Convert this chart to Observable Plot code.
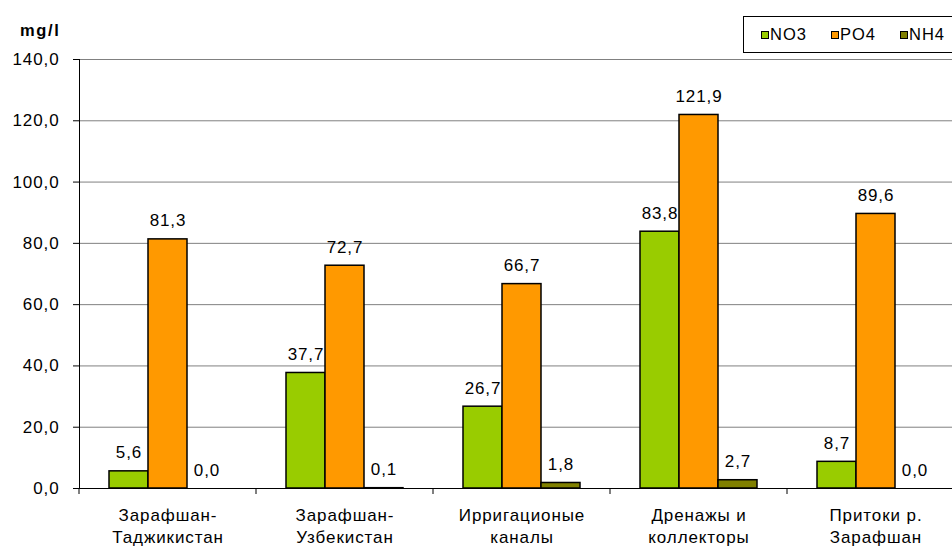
<!DOCTYPE html>
<html>
<head>
<meta charset="utf-8">
<script src="https://cdn.jsdelivr.net/npm/d3@7"></script>
<script src="https://cdn.jsdelivr.net/npm/@observablehq/plot@0.6"></script>
<style>
  html, body { margin: 0; padding: 0; background: #fff; overflow: hidden; }
  #chart { position: relative; width: 952px; height: 546px; overflow: hidden;
           font-family: "Liberation Sans", Arial, sans-serif; color: #000; }
  #chart svg text { letter-spacing: 0.9px; }
  .unit { position: absolute; left: 20px; top: 20px; font-weight: bold; font-size: 16.5px;
          letter-spacing: 1.6px; line-height: 20px; }
  .legend { position: absolute; left: 743px; top: 16px; width: 240px; height: 37px;
            border: 1px solid #000; box-sizing: border-box; display: flex; align-items: center;
            padding-left: 17px; gap: 24px; font-size: 16.5px; letter-spacing: 1px; }
  .legend .item { display: flex; align-items: center; }
  .legend .sw { display: inline-block; width: 6px; height: 6px; border: 1px solid #000; margin-right: 1px; }
</style>
</head>
<body>
<div id="chart">
  <div class="unit">mg/l</div>
  <div class="legend" id="legend"></div>
</div>
<script>
// Sampling sites (two-line labels)
const categories = [
  "Зарафшан-\nТаджикистан",
  "Зарафшан-\nУзбекистан",
  "Ирригационые\nканалы",
  "Дренажы и\nколлекторы",
  "Притоки р.\nЗарафшан"
];
const series = ["NO3", "PO4", "NH4"];
const colors = ["#99CC00", "#FF9900", "#808000"];

// Concentrations, mg/l
const no3 = [5.6, 37.7, 26.7, 83.8, 8.7];
const po4 = [81.3, 72.7, 66.7, 121.9, 89.6];
const nh4 = [0.0, 0.1, 1.8, 2.7, 0.0];

const yTicks = [0, 20, 40, 60, 80, 100, 120, 140];

const valuesBySeries = {NO3: no3, PO4: po4, NH4: nh4};
const rows = categories.flatMap((category, i) =>
  series.map(s => ({category, series: s, value: valuesBySeries[s][i]}))
);

const fmt = v => v.toFixed(1).replace(".", ",");

// small downward tick at the left edge of every category group
function groupTick(index, scales, values, dims) {
  const y0 = dims.height - dims.marginBottom;
  const line = document.createElementNS("http://www.w3.org/2000/svg", "line");
  line.setAttribute("x1", dims.marginLeft);
  line.setAttribute("x2", dims.marginLeft);
  line.setAttribute("y1", y0);
  line.setAttribute("y2", y0 + 6);
  line.setAttribute("stroke", "#000");
  return line;
}

const plot = Plot.plot({
  width: 952,
  height: 546,
  marginTop: 59,
  marginBottom: 58,
  marginLeft: 78,
  marginRight: -12,
  style: {fontFamily: "'Liberation Sans', Arial, sans-serif", fontSize: "17px", color: "#000", background: "transparent"},
  fx: {domain: categories, padding: 0, label: null},
  x: {domain: series, paddingInner: 0, paddingOuter: 0.74, axis: null},
  y: {domain: [0, 140]},
  color: {domain: series, range: colors},
  marks: [
    Plot.gridY(yTicks, {stroke: "#808080", strokeOpacity: 1}),
    Plot.barY(rows, {fx: "category", x: "series", y: "value", fill: "series", stroke: "#000", strokeWidth: 1.5}),
    Plot.ruleY([0], {stroke: "#000"}),
    Plot.frame({anchor: "left", facetAnchor: "left", stroke: "#000"}),
    Plot.axisY(yTicks, {tickSize: 6, tickPadding: 14, tickFormat: fmt, label: null, stroke: "#000"}),
    Plot.axisFx({anchor: "bottom", tickSize: 0, tickPadding: 17, lineHeight: 1.29, label: null}),
    groupTick,
    Plot.text(rows, {fx: "category", x: "series", y: "value", text: d => fmt(d.value), dy: -13, lineAnchor: "bottom", fill: "#000"})
  ]
});

document.getElementById("chart").appendChild(plot);

// legend
const legend = document.getElementById("legend");
series.forEach((s, i) => {
  const item = document.createElement("div");
  item.className = "item";
  const sw = document.createElement("span");
  sw.className = "sw";
  sw.style.background = colors[i];
  item.appendChild(sw);
  item.appendChild(document.createTextNode(s));
  legend.appendChild(item);
});
</script>
</body>
</html>
